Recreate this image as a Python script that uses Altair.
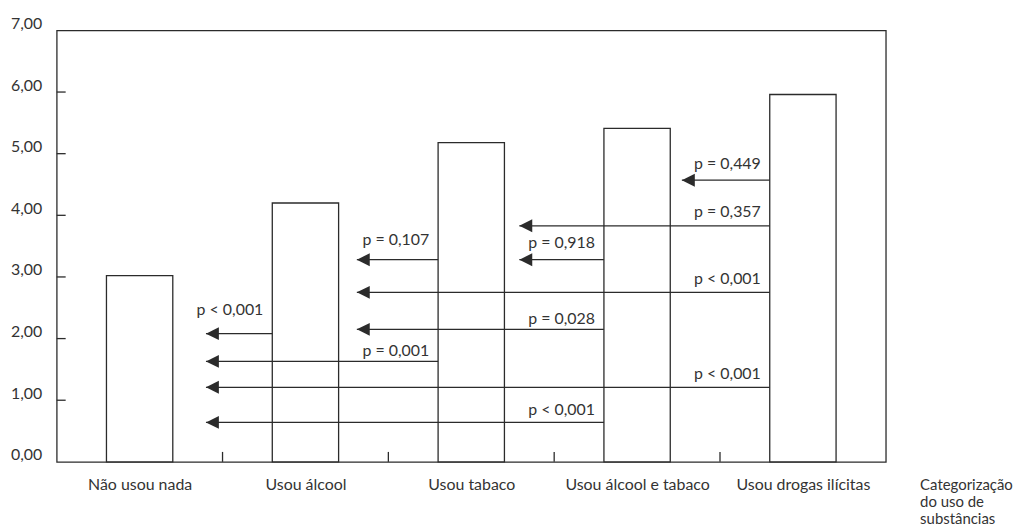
import altair as alt
import pandas as pd

# ---- data ----
categories = ["Não usou nada", "Usou álcool", "Usou tabaco",
              "Usou álcool e tabaco", "Usou drogas ilícitas"]
means = [3.02, 4.20, 5.18, 5.41, 5.96]

# comparison arrows: source bar index, arrow height, arrow tip (x units), p label, label height
arrow_from = [1, 2, 3, 4, 4, 4, 3, 2, 4, 3]
arrow_y = [2.08, 3.28, 3.28, 3.83, 4.57, 2.75, 2.15, 1.63, 1.21, 0.64]
arrow_tip = [0.90, 1.81, 2.79, 2.79, 3.77, 1.81, 1.81, 0.90, 0.90, 0.90]
arrow_label = ["p < 0,001", "p  = 0,107", "p = 0,918", "p = 0,357", "p = 0,449",
               "p < 0,001", "p = 0,028", "p  = 0,001", "p < 0,001", "p < 0,001"]
label_y = [2.46, 3.60, 3.55, 4.06, 4.84, 2.97, 2.31, 1.80, 1.43, 0.835]

y_ticks = [1, 2, 3, 4, 5, 6]
x_ticks = [1, 2, 3, 4]

FONT = "Lato"
FS = 16
INK = "#2b2b2b"
TXT = "#333333"
W, H = 834, 434
HALF_BAR = 0.2

bars = pd.DataFrame({
    "idx": list(range(len(categories))),
    "cat": categories,
    "mean": means,
})
bars["x0"] = bars["idx"] + 0.5 - HALF_BAR
bars["x1"] = bars["idx"] + 0.5 + HALF_BAR

arrows = pd.DataFrame({
    "src": arrow_from,
    "y": arrow_y,
    "tip": arrow_tip,
    "label": arrow_label,
    "ly": label_y,
})
arrows["src_x"] = arrows["src"] + 0.5 - HALF_BAR

xs = alt.Scale(domain=[0, 5], nice=False, zero=False)
ys = alt.Scale(domain=[0, 7], nice=False)

label_expr = "['" + "','".join(categories) + "'][floor(datum.value)]"

x_axis = alt.Axis(
    values=[i + 0.5 for i in range(len(categories))],
    labelExpr=label_expr, ticks=False, domain=False, grid=False,
    labelPadding=15, labelFontSize=FS, labelFont=FONT, labelColor=TXT,
    labelFlush=False,
    title=["Categorização", "do uso de", "substâncias"],
    titleFont=FONT, titleFontSize=15, titleFontWeight="normal", titleColor=TXT,
    titleAlign="left", titleAnchor="start", titleBaseline="top",
    titleX=W + 34, titleY=16, titleLineHeight=17,
)
y_axis = alt.Axis(
    values=list(range(8)),
    labelExpr="replace(format(datum.value, '.2f'), '.', ',')",
    ticks=False, domain=False, grid=False, labelPadding=15,
    labelOffset=-7, labelFontSize=FS, labelFont=FONT, labelColor=TXT,
    labelFlush=False, title=None,
)

bar_layer = alt.Chart(bars).mark_rect(
    fill="white", stroke=INK, strokeWidth=1.3
).encode(
    x=alt.X("x0:Q", scale=xs, axis=x_axis),
    x2="x1:Q",
    y=alt.Y("mean:Q", scale=ys, axis=y_axis),
    y2=alt.datum(0),
)

ytick_layer = alt.Chart(pd.DataFrame({"v": y_ticks})).mark_rule(
    color=INK, strokeWidth=1.3
).encode(
    y=alt.Y("v:Q", scale=ys, axis=y_axis),
    x=alt.value(0), x2=alt.value(9),
)

xtick_layer = alt.Chart(pd.DataFrame({"b": x_ticks})).mark_rule(
    color=INK, strokeWidth=1.3
).encode(
    x=alt.X("b:Q", scale=xs, axis=x_axis),
    y=alt.value(H), y2=alt.value(H - 10),
)

line_layer = alt.Chart(arrows).mark_rule(color=INK, strokeWidth=1.3).encode(
    x=alt.X("tip:Q", scale=xs, axis=x_axis),
    x2="src_x:Q",
    y=alt.Y("y:Q", scale=ys, axis=y_axis),
)

head_layer = alt.Chart(arrows).mark_point(
    shape="M 0 0 L 2 -1 L 2 1 Z", filled=True, fill=INK, color=INK,
    opacity=1, size=169, strokeWidth=0,
).encode(
    x=alt.X("tip:Q", scale=xs, axis=x_axis),
    y=alt.Y("y:Q", scale=ys, axis=y_axis),
)

text_layer = alt.Chart(arrows).mark_text(
    align="right", baseline="middle", dx=-9, font=FONT, fontSize=FS, color=TXT
).encode(
    x=alt.X("src_x:Q", scale=xs, axis=x_axis),
    y=alt.Y("ly:Q", scale=ys, axis=y_axis),
    text="label:N",
)

chart = alt.layer(
    bar_layer, ytick_layer, xtick_layer, line_layer, head_layer, text_layer
).properties(
    width=W, height=H,
    autosize=alt.AutoSizeParams(type="none"),
    padding={"left": 49, "top": 21, "right": 140, "bottom": 66},
).configure(
    background="white"
).configure_view(
    stroke=INK, strokeWidth=1.3
)

chart.save("out.html", embed_options={"renderer": "svg", "actions": False})
